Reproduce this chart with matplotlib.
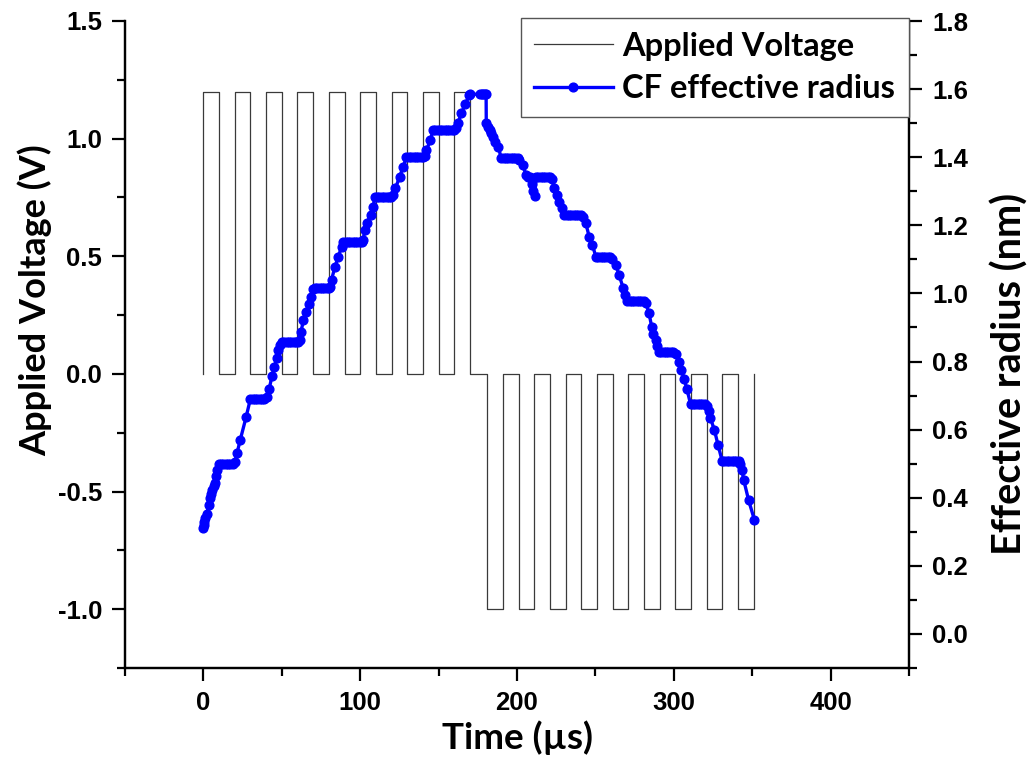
import matplotlib
matplotlib.use('Agg')
import matplotlib.pyplot as plt
from matplotlib.ticker import MultipleLocator
from matplotlib.font_manager import FontProperties

# applied voltage: level switches (steps-post)
volt_t = [0, 0, 10, 20, 30, 40, 50, 60, 70, 80, 90, 100, 110, 120, 130, 140, 150, 160, 170,
          181, 191, 201, 211, 221, 231, 241, 251, 261, 271, 281, 291, 301, 311, 321, 331, 341, 351]
volt_v = [0, 1.2, 0, 1.2, 0, 1.2, 0, 1.2, 0, 1.2, 0, 1.2, 0, 1.2, 0, 1.2, 0, 1.2, 0,
          -1.0, 0, -1.0, 0, -1.0, 0, -1.0, 0, -1.0, 0, -1.0, 0, -1.0, 0, -1.0, 0, -1.0, 0]

# CF effective radius (nm) vs time (us)
radius_t = [0.0, 0.3, 0.6, 1.0, 2.3, 3.3, 4.0, 4.6, 5.5, 6.5, 7.2, 8.0, 8.7, 9.7,
            11.2, 12.7, 14.2, 15.7, 17.2, 18.7, 20.0,
            21.4, 23.5, 27.3, 29.9,
            31.4, 32.9, 34.4, 35.9, 37.4, 38.9, 40.4,
            42.0, 43.7, 45.3, 46.8, 47.8, 48.8, 50.0,
            51.5, 53.0, 54.5, 56.0, 57.5, 59.0, 60.5, 61.7,
            62.3, 63.8, 65.5, 67.2, 68.5, 69.7,
            71.2, 72.7, 74.2, 75.7, 77.2, 78.7, 80.2, 80.7,
            81.7, 83.9, 86.0, 88.2, 89.2,
            90.7, 92.2, 93.7, 95.2, 96.7, 98.2, 99.7, 101.2, 101.9,
            103.0, 104.3, 106.6, 108.3, 109.3,
            110.8, 112.3, 113.8, 115.3, 116.8, 118.3, 119.8, 121.0,
            122.5, 125.2, 127.4, 129.5,
            131.0, 132.5, 134.0, 135.5, 137.0, 138.5, 140.0, 141.1,
            142.2, 144.8, 146.4,
            147.9, 149.4, 150.9, 152.4, 153.9, 155.4, 156.9, 158.4, 159.9, 161.3,
            162.3, 164.5, 167.0, 169.7, 170.2,
            176.5, 177.5, 178.5, 179.5, 180.3,
            180.4, 181.5, 182.5, 183.5, 184.6, 186.0, 188.2, 189.9,
            191.4, 192.9, 194.4, 195.9, 197.4, 198.9, 200.4, 201.5,
            203.6, 205.8, 207.0, 208.5, 209.5, 210.5, 211.5,
            212.0, 213.5, 215.0, 216.5, 218.0, 219.5, 221.0, 222.5,
            223.8, 225.5, 227.0, 228.5, 230.1,
            231.6, 233.1, 234.6, 236.1, 237.6, 239.1, 240.6, 241.8,
            243.9, 246.0, 248.1, 250.3,
            251.8, 253.3, 254.8, 256.3, 257.8, 259.3, 260.8,
            263.0, 265.1, 267.8, 269.0, 270.4,
            271.9, 273.4, 274.9, 276.4, 277.9, 279.4, 280.9, 282.1,
            284.2, 285.9, 287.0, 288.4, 289.5, 290.5,
            292.0, 293.5, 295.0, 296.5, 298.0, 299.5, 301.1,
            303.2, 304.9, 306.5, 308.3, 310.7,
            312.2, 313.7, 315.2, 316.7, 318.2, 319.7, 321.3,
            322.3, 323.4, 325.9, 328.2, 330.8,
            332.3, 333.8, 335.3, 336.8, 338.3, 339.8, 341.3, 342.5,
            343.5, 344.6, 347.7, 351.4]
radius_nm = [0.31, 0.32, 0.33, 0.34, 0.352, 0.38, 0.398, 0.41, 0.423, 0.435, 0.444, 0.465, 0.481, 0.50,
             0.50, 0.50, 0.50, 0.50, 0.50, 0.50, 0.505,
             0.53, 0.57, 0.638, 0.689,
             0.69, 0.69, 0.69, 0.69, 0.69, 0.69, 0.695,
             0.72, 0.757, 0.785, 0.81, 0.834, 0.85, 0.858,
             0.858, 0.858, 0.858, 0.858, 0.858, 0.858, 0.858, 0.862,
             0.888, 0.922, 0.945, 0.968, 0.99, 1.012,
             1.015, 1.015, 1.015, 1.015, 1.015, 1.015, 1.015, 1.02,
             1.04, 1.078, 1.108, 1.137, 1.152,
             1.152, 1.152, 1.152, 1.152, 1.152, 1.152, 1.152, 1.152, 1.158,
             1.186, 1.206, 1.23, 1.255, 1.282,
             1.282, 1.282, 1.282, 1.282, 1.282, 1.282, 1.282, 1.288,
             1.309, 1.343, 1.372, 1.40,
             1.40, 1.40, 1.40, 1.40, 1.40, 1.40, 1.40, 1.405,
             1.421, 1.45, 1.48,
             1.48, 1.48, 1.48, 1.48, 1.48, 1.48, 1.48, 1.48, 1.48, 1.485,
             1.50, 1.529, 1.556, 1.583, 1.585,
             1.585, 1.585, 1.585, 1.585, 1.585,
             1.50, 1.49, 1.48, 1.47, 1.46, 1.445, 1.429, 1.397,
             1.397, 1.397, 1.397, 1.397, 1.397, 1.397, 1.397, 1.392,
             1.377, 1.348, 1.343, 1.343, 1.32, 1.30, 1.285,
             1.343, 1.343, 1.343, 1.343, 1.343, 1.343, 1.343, 1.335,
             1.309, 1.29, 1.269, 1.25, 1.23,
             1.23, 1.23, 1.23, 1.23, 1.23, 1.23, 1.23, 1.225,
             1.206, 1.167, 1.142, 1.108,
             1.108, 1.108, 1.108, 1.108, 1.108, 1.108, 1.102,
             1.084, 1.054, 1.015, 0.995, 0.979,
             0.979, 0.979, 0.979, 0.979, 0.979, 0.979, 0.979, 0.972,
             0.942, 0.902, 0.88, 0.863, 0.845, 0.829,
             0.829, 0.829, 0.829, 0.829, 0.829, 0.829, 0.822,
             0.80, 0.775, 0.75, 0.72, 0.675,
             0.675, 0.675, 0.675, 0.675, 0.675, 0.675, 0.668,
             0.655, 0.633, 0.599, 0.555, 0.509,
             0.509, 0.509, 0.509, 0.509, 0.509, 0.509, 0.509, 0.50,
             0.481, 0.452, 0.393, 0.335]

TICKFONT = FontProperties(family='Liberation Sans', weight='bold', size=18.5)
W, H = 1032, 766

fig = plt.figure(figsize=(W / 100, H / 100), dpi=100)
ax = fig.add_axes([125 / W, 1 - 668 / H, 784 / W, 647 / H])
ax2 = ax.twinx()

volt_line, = ax.plot(volt_t, volt_v, drawstyle='steps-post', color='#3a3a3a', lw=0.9,
                     label='Applied Voltage')
rad_line, = ax2.plot(radius_t, radius_nm, color='#0000ff', lw=2.4, marker='o', ms=6.3,
                     label='CF effective radius')

ax.set_xlim(-50, 450)
ax.set_ylim(-1.25, 1.5)
ax2.set_ylim(-0.1, 1.8)

ax.xaxis.set_major_locator(MultipleLocator(100))
ax.xaxis.set_minor_locator(MultipleLocator(50))
ax.yaxis.set_major_locator(MultipleLocator(0.5))
ax.yaxis.set_minor_locator(MultipleLocator(0.25))
ax2.yaxis.set_major_locator(MultipleLocator(0.2))
ax2.yaxis.set_minor_locator(MultipleLocator(0.1))
ax.yaxis.set_major_formatter(lambda v, p: '%.1f' % v)
ax2.yaxis.set_major_formatter(lambda v, p: '%.1f' % v)

for a in (ax, ax2):
    a.spines['top'].set_visible(False)
    for s in a.spines.values():
        s.set_linewidth(1.6)
    a.tick_params(which='major', direction='out', length=9.5, width=1.6, pad=7)
    a.tick_params(which='minor', direction='out', length=5.5, width=1.6)
    for lab in a.get_xticklabels() + a.get_yticklabels():
        lab.set_fontproperties(TICKFONT)

ax.set_xlabel('Time (\u00b5s)', family='Lato', weight='bold', size=26.5, labelpad=4)
fig.text(35 / W, 1 - 300 / H, 'Applied Voltage (V)', family='Lato', weight='bold',
         size=26, rotation=90, ha='center', va='center')
fig.text(1010 / W, 1 - 374 / H, 'Effective radius (nm)', family='Lato', weight='bold',
         size=28.5, rotation=90, ha='center', va='center')

leg = ax2.legend(handles=[volt_line, rad_line], loc='upper right',
                 bbox_to_anchor=(909 / W, 1 - 18 / H), bbox_transform=fig.transFigure,
                 borderaxespad=0, fancybox=False, framealpha=1, edgecolor='#555555',
                 prop=dict(family='Lato', weight='bold', size=23.5), numpoints=1,
                 handlelength=2.4, handletextpad=0.3, labelspacing=0.42, borderpad=0.42)
leg.get_frame().set_linewidth(1.0)

fig.savefig('out.png', dpi=100)
